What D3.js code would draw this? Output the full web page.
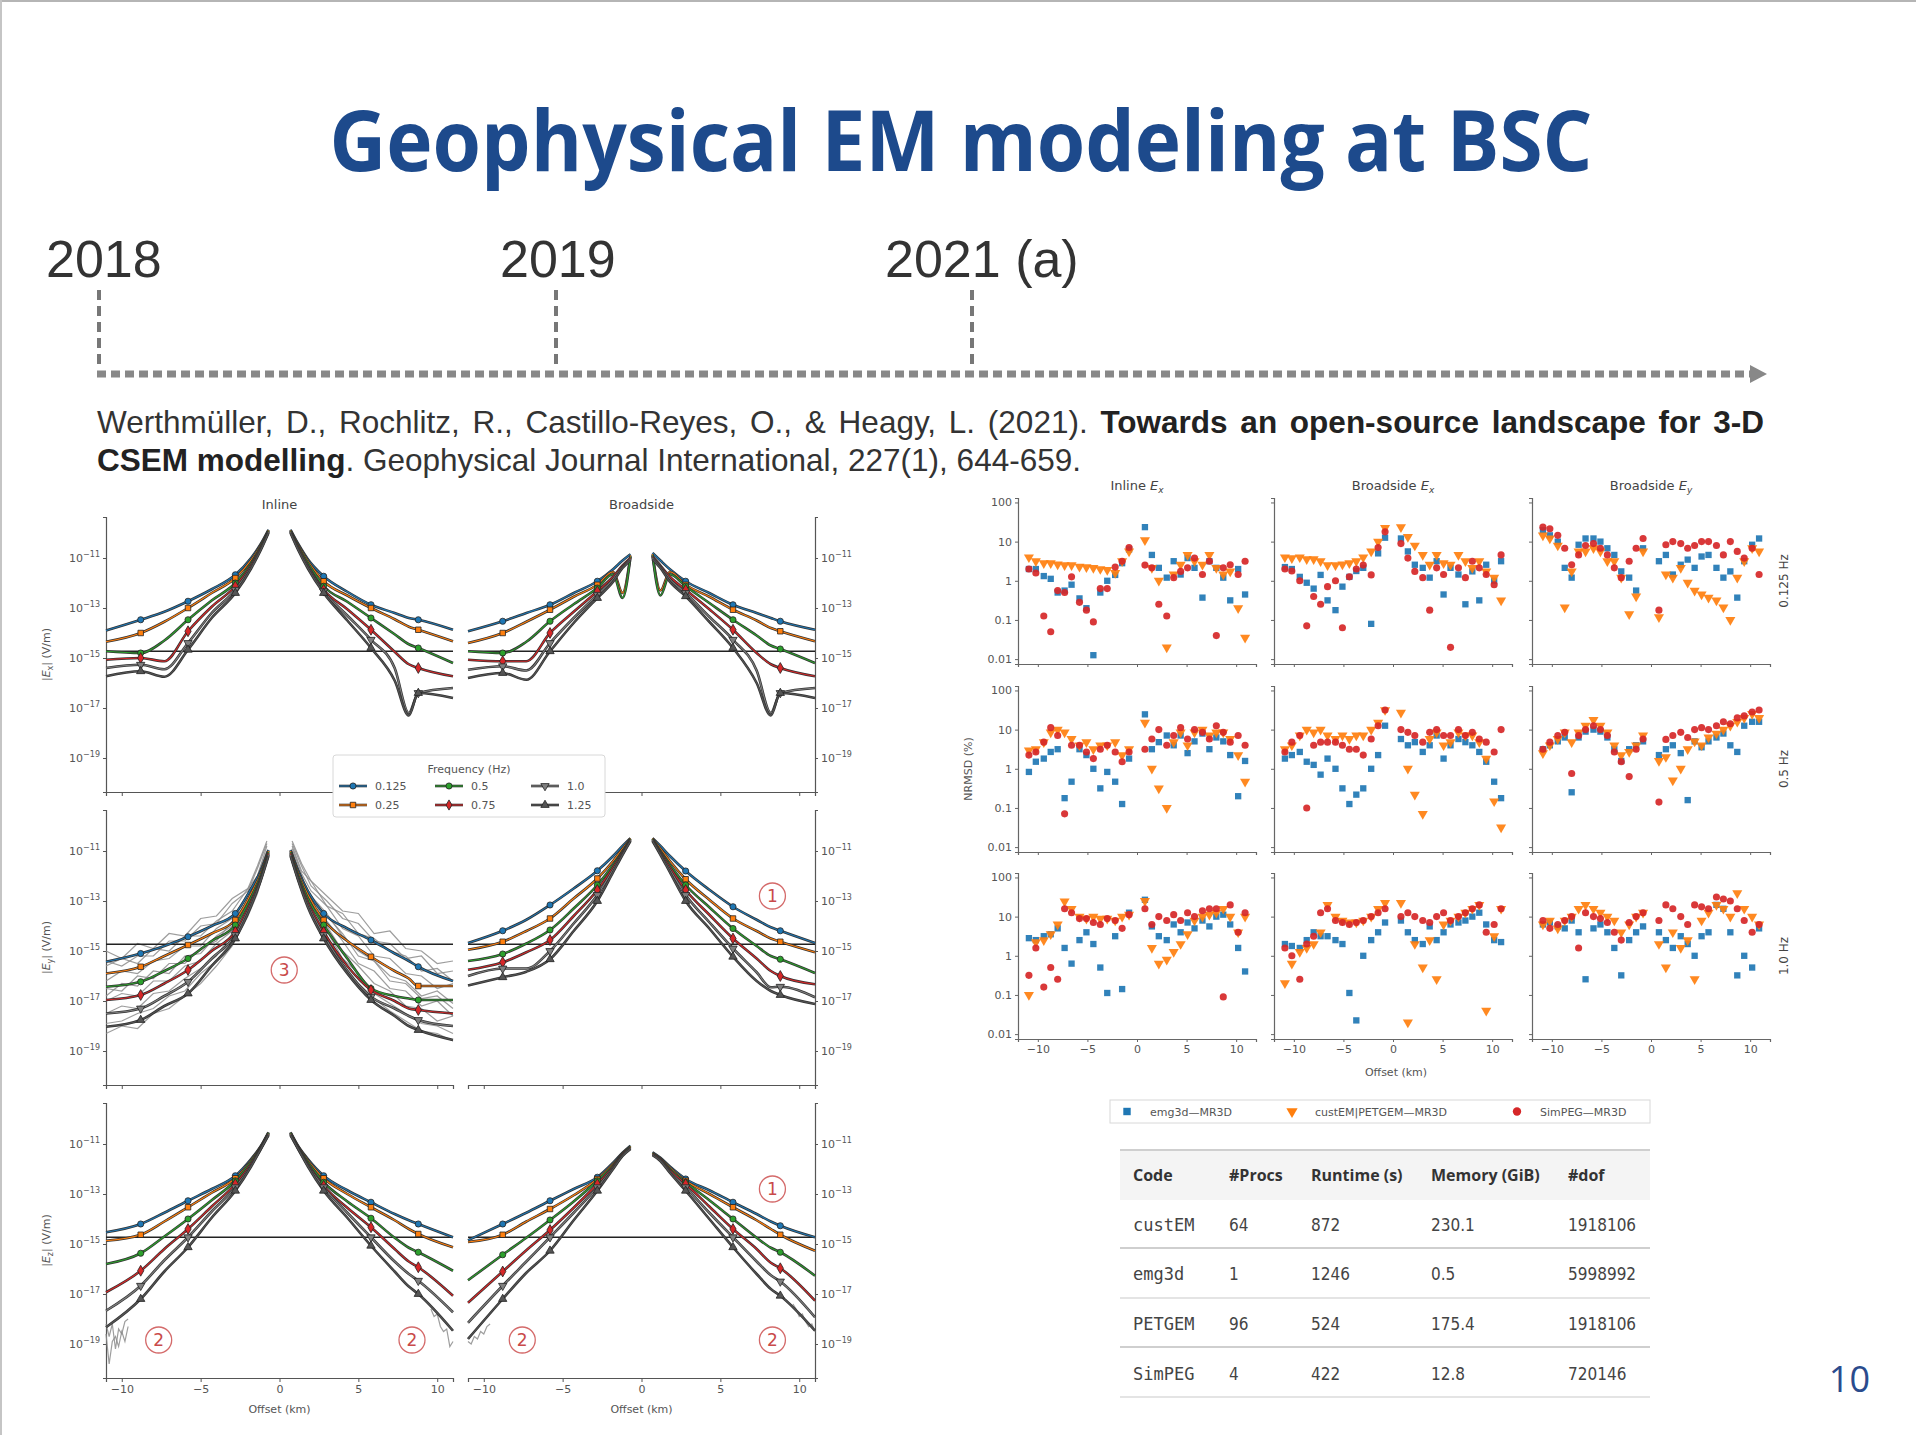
<!DOCTYPE html>
<html>
<head>
<meta charset="utf-8">
<script src="https://cdn.jsdelivr.net/npm/d3@7"></script>
<style>
  body { margin: 0; background: #fff; }
  svg { display: block; }
</style>
</head>
<body>
<script>
// ---------- data ----------
var years = ["2018", "2019", "2021 (a)"];
var freqLabels = ["0.125", "0.25", "0.5", "0.75", "1.0", "1.25"];

// offsets (km) of the amplitude curves, left branch then right branch
var ampOffsets = [-11, -8.8, -7.3, -5.8, -4.3, -2.8, -1.8, -1.2, -0.7,
                  0.7, 1.2, 1.8, 2.8, 4.3, 5.8, 7.3, 8.2, 8.8, 11];
var markerOffsets = [-8.8, -5.8, -2.8, 2.8, 5.8, 8.8];
var noiseLevel = -14.73; // log10 V/m

// log10 |E| per frequency (0.125 .. 1.25 Hz)
var inlineEx = [
  [-13.9,-13.47,-13.15,-12.73,-12.25,-11.67,-11.0,-10.45,-9.87, -9.87,-10.45,-11.05,-11.73,-12.35,-12.87,-13.2,-13.4,-13.47,-13.87],
  [-14.35,-14.0,-13.55,-13.0,-12.4,-11.8,-11.08,-10.5,-9.9, -9.9,-10.5,-11.12,-11.93,-12.5,-13.0,-13.45,-13.75,-13.87,-14.33],
  [-14.73,-14.8,-14.3,-13.47,-12.7,-12.0,-11.2,-10.55,-9.92, -9.92,-10.55,-11.2,-12.13,-12.75,-13.4,-14.05,-14.45,-14.6,-15.2],
  [-15.07,-15.0,-15.13,-13.93,-12.95,-12.13,-11.28,-10.6,-9.95, -9.95,-10.6,-11.3,-12.27,-13.05,-13.87,-14.75,-15.25,-15.4,-15.73],
  [-15.4,-15.27,-15.45,-14.4,-13.2,-12.27,-11.35,-10.65,-9.97, -9.97,-10.65,-11.35,-12.33,-13.3,-14.27,-15.4,-17.2,-16.4,-16.2],
  [-15.73,-15.53,-15.75,-14.67,-13.4,-12.4,-11.42,-10.7,-10.0, -10.0,-10.7,-11.42,-12.4,-13.5,-14.6,-15.9,-17.3,-16.4,-16.6]
];
var broadEx = [
  [-13.93,-13.53,-13.2,-12.87,-12.4,-11.93,-11.45,-11.1,-10.85, -10.8,-11.1,-11.45,-11.93,-12.4,-12.87,-13.2,-13.4,-13.53,-13.87],
  [-14.4,-14.0,-13.55,-13.07,-12.55,-12.07,-11.55,-12.4,-10.9, -10.85,-12.3,-11.55,-12.07,-12.55,-13.07,-13.5,-13.8,-13.93,-14.33],
  [-14.73,-14.8,-14.35,-13.53,-12.85,-12.2,-11.65,-12.6,-10.95, -10.9,-12.5,-11.65,-12.13,-12.8,-13.47,-14.1,-14.5,-14.64,-15.2],
  [-15.07,-15.13,-15.13,-14.0,-13.15,-12.33,-11.75,-11.3,-11.0, -10.95,-11.3,-11.75,-12.27,-13.05,-13.87,-14.8,-15.25,-15.4,-15.73],
  [-15.47,-15.33,-15.5,-14.4,-13.4,-12.47,-11.85,-11.35,-11.05, -11.0,-11.35,-11.85,-12.4,-13.35,-14.27,-15.5,-17.2,-16.4,-16.2],
  [-15.8,-15.6,-15.87,-14.73,-13.6,-12.6,-11.95,-11.4,-11.1, -11.05,-11.4,-11.95,-12.53,-13.55,-14.6,-16.0,-17.3,-16.4,-16.6]
];
var inlineEy = [
  [-15.43,-15.1,-14.8,-14.43,-14.0,-13.5,-12.5,-11.8,-10.96, -10.96,-11.8,-12.6,-13.5,-14.1,-14.56,-15.1,-15.4,-15.63,-16.2],
  [-15.9,-15.63,-15.2,-14.76,-14.3,-13.76,-12.7,-11.9,-11.0, -11.0,-11.9,-12.75,-13.76,-14.6,-15.23,-15.8,-16.1,-16.4,-16.4],
  [-16.43,-16.23,-15.8,-15.3,-14.6,-13.96,-12.85,-12.0,-11.05, -11.05,-12.0,-12.9,-13.96,-15.3,-16.5,-16.8,-16.9,-16.96,-16.96],
  [-16.96,-16.76,-16.3,-15.76,-15.0,-14.23,-13.0,-12.1,-11.1, -11.1,-12.1,-13.05,-14.23,-15.6,-16.56,-17.0,-17.3,-17.36,-17.5],
  [-17.5,-17.3,-16.8,-16.23,-15.3,-14.36,-13.1,-12.15,-11.15, -11.15,-12.15,-13.15,-14.36,-15.8,-16.83,-17.3,-17.6,-17.76,-18.0],
  [-18.03,-17.76,-17.2,-16.7,-15.6,-14.5,-13.2,-12.2,-11.2, -11.2,-12.2,-13.25,-14.5,-15.9,-16.96,-17.6,-18.0,-18.16,-18.56]
];
var broadEy = [
  [-14.68,-14.19,-13.75,-13.16,-12.5,-11.79,-11.2,-10.8,-10.49, -10.49,-10.8,-11.2,-11.8,-12.55,-13.23,-13.75,-14.05,-14.19,-14.68],
  [-14.95,-14.63,-14.2,-13.7,-12.9,-12.1,-11.4,-10.9,-10.5, -10.5,-10.9,-11.4,-12.13,-12.95,-13.7,-14.2,-14.5,-14.63,-15.05],
  [-15.4,-15.12,-14.7,-14.16,-13.3,-12.36,-11.55,-11.0,-10.52, -10.52,-11.0,-11.55,-12.36,-13.25,-14.1,-14.8,-15.2,-15.33,-15.88],
  [-15.75,-15.45,-15.05,-14.56,-13.6,-12.56,-11.65,-11.05,-10.55, -10.55,-11.05,-11.65,-12.56,-13.55,-14.5,-15.3,-15.8,-16.0,-16.33],
  [-16.0,-15.7,-15.7,-15.0,-13.9,-12.76,-11.75,-11.1,-10.57, -10.57,-11.1,-11.75,-12.76,-13.85,-14.9,-15.85,-16.45,-16.43,-16.85],
  [-16.38,-16.05,-15.83,-15.33,-14.2,-13.0,-11.85,-11.15,-10.6, -10.6,-11.15,-11.85,-13.0,-14.1,-15.23,-16.2,-16.6,-16.76,-17.12]
];
var inlineEz = [
  [-14.53,-14.2,-13.75,-13.27,-12.8,-12.27,-11.6,-11.1,-10.53, -10.53,-11.1,-11.6,-12.27,-12.85,-13.33,-13.8,-14.05,-14.2,-14.73],
  [-14.87,-14.63,-14.1,-13.53,-12.95,-12.37,-11.65,-11.12,-10.55, -10.55,-11.12,-11.65,-12.37,-13.0,-13.53,-14.05,-14.4,-14.6,-15.13],
  [-15.8,-15.37,-14.7,-14.0,-13.25,-12.47,-11.7,-11.15,-10.57, -10.57,-11.15,-11.72,-12.53,-13.3,-13.97,-14.75,-15.15,-15.33,-16.07],
  [-16.93,-16.07,-15.2,-14.4,-13.5,-12.6,-11.78,-11.18,-10.6, -10.6,-11.18,-11.8,-12.67,-13.55,-14.33,-15.2,-15.7,-15.93,-17.07],
  [-17.67,-16.67,-15.65,-14.73,-13.7,-12.73,-11.85,-11.2,-10.62, -10.62,-11.2,-11.85,-12.73,-13.75,-14.73,-15.7,-16.2,-16.47,-17.73],
  [-18.33,-17.2,-16.1,-15.13,-13.95,-12.87,-11.9,-11.22,-10.65, -10.65,-11.22,-11.9,-12.87,-13.95,-15.07,-16.1,-16.7,-17.0,-18.47]
];
var broadEz = [
  [-14.85,-14.2,-13.75,-13.27,-12.8,-12.33,-11.75,-11.35,-11.07, -11.33,-11.55,-11.9,-12.4,-12.85,-13.33,-13.8,-14.1,-14.27,-14.73],
  [-14.92,-14.63,-14.1,-13.6,-13.05,-12.4,-11.8,-11.38,-11.1, -11.36,-11.58,-11.95,-12.47,-13.0,-13.53,-14.05,-14.4,-14.63,-15.27],
  [-16.45,-15.43,-14.75,-14.04,-13.3,-12.47,-11.85,-11.4,-11.12, -11.38,-11.6,-12.0,-12.53,-13.25,-14.0,-14.75,-15.15,-15.33,-16.27],
  [-17.35,-16.1,-15.25,-14.44,-13.55,-12.6,-11.9,-11.42,-11.15, -11.4,-11.62,-12.05,-12.6,-13.5,-14.4,-15.2,-15.75,-15.97,-17.27],
  [-18.15,-16.67,-15.7,-14.73,-13.75,-12.73,-11.95,-11.45,-11.17, -11.42,-11.65,-12.1,-12.73,-13.75,-14.73,-15.7,-16.25,-16.5,-17.93],
  [-18.8,-17.2,-16.15,-15.27,-14.05,-12.87,-12.0,-11.48,-11.2, -11.45,-11.68,-12.15,-12.87,-14.0,-15.13,-16.2,-16.8,-17.07,-18.47]
];

// noisy realisations (grey) behind inline |Ey|
var noiseOffsets = [-11,-10,-9,-8,-7,-6,-5,-4,-3,-2,-1.4,-0.8, 0.8,1.4,2,3,4,5,6,7,8,9,10,11];
var eyNoise1  = [-15.0,-15.3,-14.7,-14.9,-14.3,-14.4,-13.7,-13.6,-12.9,-12.5,-11.6,-10.6, -10.6,-11.5,-12.2,-12.8,-13.4,-13.5,-14.3,-14.2,-14.9,-15.0,-15.5,-15.4];
var eyNoise2  = [-15.6,-15.3,-15.5,-14.9,-15.0,-14.4,-14.4,-13.8,-13.4,-12.5,-12.0,-10.8, -10.8,-11.8,-12.2,-13.2,-13.5,-14.3,-14.5,-15.0,-15.2,-15.8,-15.7,-16.2];
var eyNoise3  = [-16.2,-15.8,-15.9,-15.4,-15.3,-14.8,-14.8,-14.1,-13.7,-12.7,-12.0,-11.0, -10.9,-11.9,-12.6,-13.2,-14.1,-14.4,-15.2,-15.3,-15.9,-16.0,-16.5,-16.3];
var eyNoise4  = [-16.5,-16.6,-16.0,-16.1,-15.5,-15.5,-14.9,-14.6,-13.8,-13.0,-12.1,-11.1, -11.0,-12.1,-12.8,-13.5,-14.4,-15.0,-15.4,-16.0,-16.2,-16.8,-16.6,-17.1];
var eyNoise5  = [-17.0,-16.7,-16.8,-16.2,-16.2,-15.6,-15.4,-14.7,-14.2,-13.1,-12.3,-11.2, -11.2,-12.2,-12.9,-13.8,-14.6,-15.5,-15.8,-16.5,-16.6,-17.2,-17.0,-17.6];
var eyNoise6  = [-17.5,-17.2,-17.3,-16.7,-16.6,-16.1,-15.7,-15.2,-14.3,-13.3,-12.4,-11.2, -11.3,-12.3,-13.2,-14.0,-15.0,-15.6,-16.3,-16.6,-17.2,-17.3,-17.8,-17.6];
var eyNoise7  = [-17.9,-17.8,-17.5,-17.3,-16.8,-16.6,-15.9,-15.4,-14.6,-13.5,-12.6,-11.3, -11.4,-12.4,-13.4,-14.2,-15.3,-15.9,-16.7,-17.1,-17.5,-17.9,-18.0,-18.3];
var eyNoise8  = [-18.3,-18.0,-18.1,-17.5,-17.3,-16.8,-16.3,-15.6,-14.8,-13.6,-12.7,-11.4, -11.4,-12.6,-13.5,-14.5,-15.5,-16.3,-16.9,-17.4,-17.8,-18.2,-18.3,-18.6];
var eyNoise9  = [-15.4,-15.6,-15.2,-15.2,-14.6,-14.6,-14.0,-13.9,-13.1,-12.6,-11.7,-10.7, -10.7,-11.6,-12.4,-13.0,-13.7,-13.9,-14.6,-14.7,-15.3,-15.2,-15.9,-15.8];
var eyNoise10 = [-16.8,-16.3,-16.4,-15.8,-15.9,-15.2,-15.1,-14.4,-14.0,-12.9,-12.2,-11.1, -11.1,-12.0,-12.9,-13.6,-14.3,-15.2,-15.4,-16.2,-16.3,-16.9,-16.8,-17.3];

// noisy tails of |Ez|
var tailOffsetsL = [-11,-10.8,-10.6,-10.4,-10.2,-10.0,-9.8,-9.6];
var tailOffsetsR = [9.6,9.8,10.0,10.2,10.4,10.6,10.8,11];
var ezTailInline1 = [-18.6,-19.8,-18.9,-18.7,-19.1,-18.5,-18.9,-18.3];
var ezTailInline2 = [-18.2,-18.7,-18.2,-19.2,-18.4,-18.6,-18.1,-18.0];
var ezTailInlineR = [-17.6,-17.9,-17.8,-18.3,-18.5,-18.4,-19.1,-18.9];
var ezTailBroad1 = [-18.9,-19.0,-18.7,-18.8,-18.5,-18.6,-18.3,-18.2];
var ezTailBroadR = [-17.4,-17.6,-17.9,-17.8,-18.1,-18.3,-18.2,-18.5];

// NRMSD (log10 %) at these offsets, left branch then right branch
var nrmsdOffsets = [-10.9,-10.2,-9.4,-8.7,-8.0,-7.3,-6.6,-5.8,-5.1,-4.4,-3.7,-3.0,-2.2,-1.5,-0.8,
                    0.8,1.5,2.2,3.0,3.7,4.4,5.1,5.8,6.6,7.3,8.0,8.7,9.4,10.2,10.9];
var codes = ["emg3d\u2014MR3D", "custEM|PETGEM\u2014MR3D", "SimPEG\u2014MR3D"];
var compTitles = ["Inline", "Broadside", "Broadside"];
var compSubs = ["x", "x", "y"];
var freqRows = ["0.125 Hz", "0.5 Hz", "1.0 Hz"];

var ie125Emg  = [0.3,0.3,0.12,0.05,-0.3,-0.25,-0.1,-0.45,-0.7,-1.9,-0.3,0.0,0.15,0.45,0.8, 1.37,0.66,0.33,0.08,0.5,0.16,0.58,0.33,-0.43,0.5,0.33,0.08,-0.5,0.3,-0.35];
var ie125Cust = [0.6,0.5,0.45,0.45,0.42,0.4,0.4,0.36,0.35,0.33,0.3,0.28,0.2,0.5,0.75, 1.04,0.33,0.0,-1.7,0.16,0.41,0.66,0.5,0.41,0.66,0.33,0.16,0.24,-0.7,-1.45];
var ie125Sim  = [0.3,0.2,-0.9,-1.3,-0.25,-0.3,0.1,-0.55,-0.75,-1.05,-0.2,-0.2,0.35,0.5,0.85, 0.4,0.33,-0.6,-0.9,0.08,0.24,0.33,0.58,0.16,0.5,-1.4,0.33,0.41,0.16,0.5];
var bx125Emg  = [0.35,0.3,0.1,-0.05,-0.2,0.15,-0.5,-0.75,-0.15,0.1,0.25,0.33,-1.1,0.7,1.1, 1.08,0.75,0.41,0.33,0.08,0.5,-0.35,0.33,0.16,-0.6,0.24,-0.5,0.41,0.0,0.5];
var bx125Cust = [0.6,0.58,0.6,0.55,0.55,0.5,0.4,0.4,0.42,0.45,0.5,0.6,0.75,1.0,1.35, 1.37,1.12,0.9,0.66,0.41,0.66,0.45,0.41,0.66,0.5,0.33,0.5,0.24,0.08,-0.5];
var bx125Sim  = [0.3,0.25,0.0,-1.15,-0.4,-0.6,-0.15,0.0,-1.2,0.1,0.3,0.4,0.15,0.85,1.25, 0.95,0.58,0.24,0.08,-0.75,0.33,0.16,-1.7,0.33,0.08,0.5,0.33,0.16,-0.1,0.66];
var by125Emg  = [1.29,1.16,1.0,0.33,0.08,0.92,1.08,1.08,1.0,0.83,0.66,0.24,0.08,-0.25,0.83, 0.5,0.66,0.16,0.41,0.54,0.33,0.62,0.66,0.33,0.08,0.24,-0.43,0.5,0.92,1.08];
var by125Cust = [1.16,1.08,0.9,-0.68,0.24,0.75,0.75,0.83,0.75,0.5,0.5,0.08,-0.85,-0.4,0.75, -0.93,0.16,0.08,0.33,-0.05,-0.25,-0.35,-0.43,-0.5,-0.68,-1.0,0.08,0.5,0.83,0.75];
var by125Sim  = [1.37,1.33,1.16,0.83,0.41,0.66,0.9,0.95,0.83,0.66,0.33,0.08,0.5,0.83,1.08, -0.75,0.92,1.0,0.95,0.83,0.9,1.0,1.0,0.9,0.66,1.0,0.75,0.58,0.83,0.16];
var ie05Emg   = [-0.08,0.18,0.26,0.43,0.5,-0.75,-0.33,0.5,0.35,0.0,-0.5,-0.08,-0.33,-0.9,0.26, 1.39,0.5,0.68,0.85,0.6,0.85,0.4,0.7,0.9,0.5,0.8,0.7,0.35,-0.7,0.2];
var ie05Cust  = [0.47,0.5,0.68,0.93,1.0,0.93,0.76,0.6,0.68,0.5,0.6,0.6,0.68,0.35,0.5, 1.18,0.0,-0.5,-1.0,0.68,0.93,0.6,0.93,1.0,0.85,0.93,0.93,0.76,0.35,-0.33];
var ie05Sim   = [0.35,0.43,0.68,1.05,0.85,-1.15,0.6,0.6,0.43,0.26,0.5,0.6,0.43,0.18,0.43, 0.5,0.76,1.0,0.6,0.85,1.05,0.76,1.0,0.93,0.76,1.1,0.93,0.68,0.85,0.6];
var bx05Emg   = [0.26,0.35,0.43,0.18,0.1,-0.15,0.26,0.0,-0.5,-0.9,-0.66,-0.5,0.0,0.35,1.1, 0.76,0.6,0.68,0.43,0.6,0.85,0.26,0.6,0.76,0.68,0.6,0.43,0.18,-0.33,-0.75];
var bx05Cust  = [0.5,0.6,0.85,1.0,0.93,1.0,0.85,0.76,0.85,0.76,0.85,0.85,1.0,1.18,1.5, 1.43,0.0,-0.66,-1.15,0.76,0.93,0.6,0.68,0.93,0.85,0.85,0.68,0.26,-0.83,-1.5];
var bx05Sim   = [0.43,0.68,0.85,-1.0,0.6,0.68,0.68,0.68,0.6,0.5,0.5,0.35,0.76,1.1,1.5, 1.0,0.93,0.85,0.68,0.93,1.0,0.85,0.85,1.0,0.85,0.93,0.76,0.68,0.43,1.0];
var by05Emg   = [0.5,0.6,0.7,0.8,-0.6,0.8,0.95,1.0,0.95,0.8,0.5,0.2,0.5,0.6,0.7, 0.35,0.5,0.6,0.4,-0.8,0.7,0.55,0.7,0.8,0.9,0.6,0.43,1.1,1.2,1.2];
var by05Cust  = [0.4,0.6,0.76,0.93,0.68,0.93,1.1,1.25,1.1,0.93,0.6,0.35,0.43,0.6,0.85, 0.2,0.3,-0.3,0.0,0.5,0.7,0.6,0.8,0.9,1.0,1.1,1.2,1.3,1.4,1.3];
var by05Sim   = [0.5,0.68,0.85,0.93,-0.12,0.85,1.0,1.1,1.0,0.85,0.43,0.18,-0.2,0.5,0.76, -0.85,0.75,0.85,0.93,0.8,1.0,1.05,1.0,1.1,1.2,1.15,1.3,1.35,1.45,1.5];
var ie10Emg   = [0.45,0.4,0.5,0.55,0.7,0.2,-0.2,0.4,0.6,0.3,-0.3,-0.95,0.5,-0.85,1.1, 1.43,0.75,0.5,0.4,0.8,0.6,0.85,0.7,0.9,0.75,1.0,1.05,0.8,0.2,-0.4];
var ie10Cust  = [-1.0,0.35,0.4,0.55,0.8,1.39,1.2,1.0,0.95,1.0,0.95,0.95,0.9,1.0,1.05, 1.4,0.2,-0.2,-0.1,0.1,0.3,0.55,0.9,1.0,1.05,1.1,1.2,1.0,0.6,1.0];
var ie10Sim   = [-0.5,0.2,-0.8,-0.3,-0.6,1.2,1.1,0.95,0.95,0.85,0.8,0.95,0.9,0.7,1.05, 1.2,0.8,1.0,0.9,1.05,0.9,1.1,1.0,1.15,1.2,1.2,-1.05,1.3,0.6,1.1];
var bx10Emg   = [0.3,0.25,0.2,0.4,0.6,0.5,0.5,0.4,0.3,-0.95,-1.65,0.0,0.4,0.6,0.85, 0.9,0.6,0.4,0.3,0.75,0.4,0.6,0.8,0.85,0.9,1.0,1.1,0.8,0.4,0.35];
var bx10Cust  = [-0.7,-0.2,0.1,0.2,0.3,0.6,1.3,1.0,0.9,0.85,0.85,0.9,1.0,1.2,1.35, 1.35,-1.7,0.3,-0.3,0.4,-0.6,0.8,0.9,1.0,1.1,1.2,1.3,-1.4,0.5,1.2];
var bx10Sim   = [0.2,0.0,-0.6,0.3,0.5,1.1,1.2,0.9,0.85,0.8,0.85,0.9,1.0,1.1,1.2, 1.0,1.1,1.0,0.9,0.85,1.0,1.1,0.9,1.0,1.1,1.2,1.3,0.6,0.8,1.2];
var by10Emg   = [0.8,0.85,0.75,0.7,0.9,0.6,-0.6,0.7,0.8,0.6,0.2,-0.5,0.4,0.6,0.75, 0.6,0.4,0.2,0.5,0.3,0.0,0.5,0.6,1.3,1.2,0.6,-0.5,0.0,-0.3,0.7];
var by10Cust  = [0.8,0.9,0.7,0.9,1.0,1.2,1.3,1.2,1.1,1.0,0.9,0.6,0.8,1.0,1.1, 0.3,-0.3,0.6,0.2,0.4,-0.6,0.9,1.1,1.3,1.2,1.0,1.6,1.2,1.0,0.8];
var by10Sim   = [0.9,0.7,0.8,0.9,1.0,0.2,1.1,1.0,0.95,0.85,0.6,0.4,0.85,1.0,1.1, 0.9,1.3,1.2,1.0,0.8,1.3,1.25,1.2,1.5,1.45,1.4,1.2,0.9,0.6,0.8];

// runtime table
var tableHeader = ["Code", "#Procs", "Runtime (s)", "Memory (GiB)", "#dof"];
var tableCodes = ["custEM", "emg3d", "PETGEM", "SimPEG"];
var tableProcs = [64, 1, 96, 4];
var tableRuntime = [872, 1246, 524, 422];
var tableMemory = ["230.1", "0.5", "175.4", "12.8"];
var tableDof = [1918106, 5998992, 1918106, 720146];

// ---------- page ----------
var W = 1916, H = 1435;
var svg = d3.select("body").append("svg").attr("width", W).attr("height", H);
svg.append("rect").attr("width", W).attr("height", H).attr("fill", "#fff");
svg.append("line").attr("x1", 0).attr("x2", W).attr("y1", 1).attr("y2", 1).attr("stroke", "#b5b5b5").attr("stroke-width", 2);
svg.append("line").attr("x1", 1).attr("x2", 1).attr("y1", 0).attr("y2", H).attr("stroke", "#c5c5c5").attr("stroke-width", 2);

svg.append("text")
  .attr("x", 961).attr("y", 171)
  .attr("text-anchor", "middle")
  .attr("font-family", "Open Sans, Noto Sans, sans-serif")
  .attr("font-weight", 700).attr("font-size", 84)
  .attr("textLength", 1263).attr("lengthAdjust", "spacingAndGlyphs")
  .attr("fill", "#1d4a8c")
  .text("Geophysical EM modeling at BSC");

// timeline
var yearX = [46, 500, 885];
var stemX = [99, 556, 972];
svg.selectAll(".year").data(years).enter().append("text")
  .attr("x", function(d, i) { return yearX[i]; }).attr("y", 277)
  .attr("font-family", "Liberation Sans, Arial, sans-serif").attr("font-size", 52)
  .attr("fill", "#333").text(function(d) { return d; });
svg.selectAll(".stem").data(stemX).enter().append("line")
  .attr("x1", function(d) { return d; }).attr("x2", function(d) { return d; })
  .attr("y1", 290).attr("y2", 370)
  .attr("stroke", "#777").attr("stroke-width", 4).attr("stroke-dasharray", "10,6");
svg.append("line").attr("x1", 97).attr("x2", 1752).attr("y1", 374).attr("y2", 374)
  .attr("stroke", "#888").attr("stroke-width", 7).attr("stroke-dasharray", "9,5");
svg.append("path").attr("d", "M1750,365 L1767,374 L1750,383 Z").attr("fill", "#888");

// citation (first line justified with word spacing)
var citeFont = "Liberation Sans, Arial, sans-serif";
var citeSize = 31.5;
var cite1 = svg.append("text").attr("x", 97).attr("y", 433)
  .attr("font-family", citeFont).attr("font-size", citeSize).attr("fill", "#333");
var c1a = "Werthmüller, D., Rochlitz, R., Castillo-Reyes, O., & Heagy, L. (2021). ";
var c1b = "Towards an open-source landscape for 3-D";
cite1.append("tspan").text(c1a);
cite1.append("tspan").attr("font-weight", "bold").attr("fill", "#222").text(c1b);
var natural = cite1.node().getComputedTextLength();
var nSpaces = (c1a + c1b).split(" ").length - 1;
cite1.attr("word-spacing", Math.max(0, (1667 - natural) / nSpaces));
var cite2 = svg.append("text").attr("x", 97).attr("y", 471)
  .attr("font-family", citeFont).attr("font-size", citeSize).attr("fill", "#333");
cite2.append("tspan").attr("font-weight", "bold").attr("fill", "#222").text("CSEM modelling");
cite2.append("tspan").text(". Geophysical Journal International, 227(1), 644-659.");

// ---------- left figure: amplitudes ----------
var figFont = "DejaVu Sans, sans-serif";
var freqColors = ["#1f77b4", "#ff7f0e", "#2ca02c", "#d62728", "#7f7f7f", "#555555"];
var freqSymbols = [d3.symbolCircle, d3.symbolSquare, d3.symbolCircle, d3.symbolDiamond, d3.symbolTriangle, d3.symbolTriangle];
var symbolRotate = [0, 0, 0, 0, 180, 0];
var rowTops = [517, 810, 1103];
var colLeft = [106, 468];
var panelW = 347, panelH = 275;
var rowPanels = [[inlineEx, broadEx], [inlineEy, broadEy], [inlineEz, broadEz]];
var rowSub = ["x", "y", "z"];

function supLabel(sel, expo) {
  sel.text("");
  sel.append("tspan").text("10");
  sel.append("tspan").attr("dy", -5).attr("font-size", 8).text("\u2212" + expo);
}

function ampPanel(r, c) {
  var x0 = colLeft[c], y0 = rowTops[r];
  var x = d3.scaleLinear().domain([-11, 11]).range([x0, x0 + panelW]);
  var y = d3.scaleLinear().domain([-20.36, -9.36]).range([y0 + panelH, y0]);
  var g = svg.append("g");

  var yAxis = (c === 0 ? d3.axisLeft(y) : d3.axisRight(y))
    .tickValues([-11, -13, -15, -17, -19]).tickSize(3);
  var ya = g.append("g").attr("transform", "translate(" + (c === 0 ? x0 : x0 + panelW) + ",0)").call(yAxis);
  ya.selectAll(".tick text").each(function(d) { supLabel(d3.select(this), -d); });
  var xa = g.append("g").attr("transform", "translate(0," + (y0 + panelH) + ")")
    .call(d3.axisBottom(x).tickValues([-10, -5, 0, 5, 10]).tickSize(4)
      .tickFormat(r === 2 ? function(d) { return d < 0 ? "\u2212" + (-d) : d; } : ""));
  [ya, xa].forEach(function(a) {
    a.select(".domain").attr("stroke", "#555").attr("stroke-width", 1.2);
    a.selectAll(".tick line").attr("stroke", "#555");
    a.selectAll("text").attr("font-family", figFont).attr("font-size", 11).attr("fill", "#555");
  });

  var line = d3.line().x(function(d) { return x(d[0]); }).y(function(d) { return y(d[1]); });
  var smooth = d3.line().curve(d3.curveMonotoneX).x(function(d) { return x(d[0]); }).y(function(d) { return y(d[1]); });
  function branches(offs, vals) {
    var L = [], R = [];
    offs.forEach(function(o, i) { (o < 0 ? L : R).push([o, vals[i]]); });
    return [L, R];
  }

  // grey noisy realisations
  var grey = [];
  if (r === 1 && c === 0) {
    [eyNoise1, eyNoise2, eyNoise3, eyNoise4, eyNoise5, eyNoise6, eyNoise7, eyNoise8, eyNoise9, eyNoise10].forEach(function(v) {
      grey = grey.concat(branches(noiseOffsets, v));
    });
  }
  if (r === 2) {
    if (c === 0) {
      grey.push(tailOffsetsL.map(function(o, i) { return [o, ezTailInline1[i]]; }));
      grey.push(tailOffsetsL.map(function(o, i) { return [o, ezTailInline2[i]]; }));
      grey.push(tailOffsetsR.map(function(o, i) { return [o, ezTailInlineR[i]]; }));
    } else {
      grey.push(tailOffsetsL.map(function(o, i) { return [o, ezTailBroad1[i]]; }));
      grey.push(tailOffsetsR.map(function(o, i) { return [o, ezTailBroadR[i]]; }));
    }
  }
  g.selectAll(".grey").data(grey).enter().append("path")
    .attr("d", line).attr("fill", "none").attr("stroke", "#8c8c8c").attr("stroke-width", 1.2).attr("opacity", 0.85);

  // noise level
  g.append("line").attr("x1", x0).attr("x2", x0 + panelW)
    .attr("y1", y(noiseLevel)).attr("y2", y(noiseLevel)).attr("stroke", "#222").attr("stroke-width", 1.5);

  var curves = rowPanels[r][c];
  curves.forEach(function(vals, f) {
    branches(ampOffsets, vals).forEach(function(b) {
      g.append("path").attr("d", smooth(b)).attr("fill", "none").attr("stroke", "#333").attr("stroke-width", 2.6);
      g.append("path").attr("d", smooth(b)).attr("fill", "none").attr("stroke", freqColors[f]).attr("stroke-width", 1.1);
    });
  });
  curves.forEach(function(vals, f) {
    var pts = markerOffsets.map(function(o) { return [o, vals[ampOffsets.indexOf(o)]]; });
    g.selectAll(".m" + f).data(pts).enter().append("path")
      .attr("d", d3.symbol().type(freqSymbols[f]).size(f === 3 ? 34 : 30))
      .attr("transform", function(d) { return "translate(" + x(d[0]) + "," + y(d[1]) + ") rotate(" + symbolRotate[f] + ")"; })
      .attr("fill", freqColors[f]).attr("stroke", "#222").attr("stroke-width", 0.8);
  });

  if (r === 0) {
    g.append("text").attr("x", x(0)).attr("y", 509).attr("text-anchor", "middle")
      .attr("font-family", figFont).attr("font-size", 13).attr("fill", "#444")
      .text(c === 0 ? "Inline" : "Broadside");
  }
  if (r === 2) {
    g.append("text").attr("x", x(0)).attr("y", 1413).attr("text-anchor", "middle")
      .attr("font-family", figFont).attr("font-size", 11).attr("fill", "#555").text("Offset (km)");
  }
  if (c === 0) {
    var lab = g.append("text").attr("transform", "translate(50," + (y0 + panelH / 2) + ") rotate(-90)")
      .attr("text-anchor", "middle").attr("font-family", figFont).attr("font-size", 11).attr("fill", "#555");
    lab.append("tspan").text("|");
    lab.append("tspan").attr("font-style", "italic").text("E");
    lab.append("tspan").attr("dy", 3).attr("font-size", 8).text(rowSub[r]);
    lab.append("tspan").attr("dy", -3).text("| (V/m)");
  }
  return { x: x, y: y };
}

var scales = [];
for (var r = 0; r < 3; r++) {
  scales.push([ampPanel(r, 0), ampPanel(r, 1)]);
}

// circled annotations
var notes = [
  { r: 1, c: 0, k: "3", o: 0.3, v: -15.76 },
  { r: 1, c: 1, k: "1", o: 8.3, v: -12.8 },
  { r: 2, c: 1, k: "1", o: 8.3, v: -12.8 },
  { r: 2, c: 0, k: "2", o: -7.66, v: -18.84 },
  { r: 2, c: 0, k: "2", o: 8.4, v: -18.84 },
  { r: 2, c: 1, k: "2", o: -7.56, v: -18.84 },
  { r: 2, c: 1, k: "2", o: 8.3, v: -18.84 }
];
notes.forEach(function(n) {
  var s = scales[n.r][n.c];
  var cx = s.x(n.o), cy = s.y(n.v);
  svg.append("circle").attr("cx", cx).attr("cy", cy).attr("r", 13)
    .attr("fill", "none").attr("stroke", "#d46a6a").attr("stroke-width", 1.3);
  svg.append("text").attr("x", cx).attr("y", cy + 6).attr("text-anchor", "middle")
    .attr("font-family", figFont).attr("font-size", 17).attr("fill", "#c94a4a").text(n.k);
});

// frequency legend
var leg = svg.append("g").attr("transform", "translate(333,755)");
leg.append("rect").attr("width", 272).attr("height", 62).attr("rx", 3)
  .attr("fill", "#fff").attr("stroke", "#d8d8d8");
leg.append("text").attr("x", 136).attr("y", 18).attr("text-anchor", "middle")
  .attr("font-family", figFont).attr("font-size", 11).attr("fill", "#555").text("Frequency (Hz)");
freqLabels.forEach(function(lbl, f) {
  var lx = 6 + Math.floor(f / 2) * 96, ly = 31 + (f % 2) * 19;
  leg.append("line").attr("x1", lx).attr("x2", lx + 28).attr("y1", ly).attr("y2", ly).attr("stroke", "#333").attr("stroke-width", 2.6);
  leg.append("line").attr("x1", lx).attr("x2", lx + 28).attr("y1", ly).attr("y2", ly).attr("stroke", freqColors[f]).attr("stroke-width", 1.1);
  leg.append("path").attr("d", d3.symbol().type(freqSymbols[f]).size(30))
    .attr("transform", "translate(" + (lx + 14) + "," + ly + ") rotate(" + symbolRotate[f] + ")")
    .attr("fill", freqColors[f]).attr("stroke", "#222").attr("stroke-width", 0.8);
  leg.append("text").attr("x", lx + 36).attr("y", ly + 4)
    .attr("font-family", figFont).attr("font-size", 11).attr("fill", "#555").text(lbl);
});

// ---------- right figure: NRMSD ----------
var codeColors = ["#1f77b4", "#ff7f0e", "#d62728"];
var codeSymbols = [d3.symbolSquare, d3.symbolTriangle, d3.symbolCircle];
var codeRotate = [0, 180, 0];
var nColLeft = [1018, 1274, 1532];
var nRowTop = [498, 686, 873];
var nW = 238, nH = 166;
var nrmsdGrid = [
  [[ie125Emg, ie125Cust, ie125Sim], [bx125Emg, bx125Cust, bx125Sim], [by125Emg, by125Cust, by125Sim]],
  [[ie05Emg, ie05Cust, ie05Sim], [bx05Emg, bx05Cust, bx05Sim], [by05Emg, by05Cust, by05Sim]],
  [[ie10Emg, ie10Cust, ie10Sim], [bx10Emg, bx10Cust, bx10Sim], [by10Emg, by10Cust, by10Sim]]
];

nrmsdGrid.forEach(function(row, ri) {
  row.forEach(function(series, ci) {
    var x0 = nColLeft[ci], y0 = nRowTop[ri];
    var x = d3.scaleLinear().domain([-12, 12]).range([x0, x0 + nW]);
    var y = d3.scaleLog().domain([0.0075, 130]).range([y0 + nH, y0]);
    var g = svg.append("g");
    var ya = g.append("g").attr("transform", "translate(" + x0 + ",0)")
      .call(d3.axisLeft(y).tickValues([0.01, 0.1, 1, 10, 100]).tickSize(3)
        .tickFormat(ci === 0 ? function(d) { return String(d); } : ""));
    var xa = g.append("g").attr("transform", "translate(0," + (y0 + nH) + ")")
      .call(d3.axisBottom(x).tickValues([-10, -5, 0, 5, 10]).tickSize(3)
        .tickFormat(ri === 2 ? function(d) { return d < 0 ? "\u2212" + (-d) : d; } : ""));
    [ya, xa].forEach(function(a) {
      a.select(".domain").attr("stroke", "#666").attr("stroke-width", 1.2);
      a.selectAll(".tick line").attr("stroke", "#666");
      a.selectAll("text").attr("font-family", figFont).attr("font-size", 11).attr("fill", "#555");
    });
    series.forEach(function(vals, si) {
      g.selectAll(".p" + si).data(vals).enter().append("path")
        .attr("d", d3.symbol().type(codeSymbols[si]).size(si === 1 ? 44 : 40))
        .attr("transform", function(v, i) {
          return "translate(" + x(nrmsdOffsets[i]) + "," + y(Math.pow(10, v)) + ") rotate(" + codeRotate[si] + ")";
        })
        .attr("fill", codeColors[si]).attr("opacity", 0.92);
    });
    if (ri === 0) {
      var t = g.append("text").attr("x", x(0)).attr("y", 490).attr("text-anchor", "middle")
        .attr("font-family", figFont).attr("font-size", 13).attr("fill", "#444");
      t.append("tspan").text(compTitles[ci] + " ");
      t.append("tspan").attr("font-style", "italic").text("E");
      t.append("tspan").attr("dy", 3).attr("font-size", 9).attr("font-style", "italic").text(compSubs[ci]);
    }
    if (ci === 2) {
      g.append("text").attr("transform", "translate(1788," + (y0 + nH / 2) + ") rotate(-90)")
        .attr("text-anchor", "middle").attr("font-family", figFont).attr("font-size", 12).attr("fill", "#444")
        .text(freqRows[ri]);
    }
  });
});
svg.append("text").attr("transform", "translate(972," + (nRowTop[1] + nH / 2) + ") rotate(-90)")
  .attr("text-anchor", "middle").attr("font-family", figFont).attr("font-size", 11).attr("fill", "#555").text("NRMSD (%)");
svg.append("text").attr("x", 1396).attr("y", 1076).attr("text-anchor", "middle")
  .attr("font-family", figFont).attr("font-size", 11).attr("fill", "#555").text("Offset (km)");

// code legend
var cl = svg.append("g").attr("transform", "translate(1110,1100)");
cl.append("rect").attr("width", 540).attr("height", 23).attr("fill", "#fff").attr("stroke", "#d8d8d8");
var clX = [17, 182, 407];
codes.forEach(function(name, i) {
  cl.append("path").attr("d", d3.symbol().type(codeSymbols[i]).size(55))
    .attr("transform", "translate(" + clX[i] + ",11.5) rotate(" + codeRotate[i] + ")").attr("fill", codeColors[i]);
  cl.append("text").attr("x", clX[i] + 23).attr("y", 16)
    .attr("font-family", figFont).attr("font-size", 11).attr("fill", "#555").text(name);
});

// ---------- table ----------
var colX = [1133, 1229, 1311, 1431, 1568];
var tb = svg.append("g");
tb.append("rect").attr("x", 1120).attr("y", 1150).attr("width", 530).attr("height", 50).attr("fill", "#f4f4f4");
tb.append("line").attr("x1", 1120).attr("x2", 1650).attr("y1", 1150).attr("y2", 1150).attr("stroke", "#cfcfcf").attr("stroke-width", 2);
tableHeader.forEach(function(h, i) {
  tb.append("text").attr("x", colX[i]).attr("y", 1181)
    .attr("font-family", "Open Sans, Noto Sans, sans-serif").attr("font-weight", 700)
    .attr("font-size", 16).attr("fill", "#333").text(h);
});
var rowBase = [1231, 1280, 1330, 1380];
var sepY = [1248, 1298, 1347, 1397];
tableCodes.forEach(function(code, i) {
  var cells = [code, tableProcs[i], tableRuntime[i], tableMemory[i], tableDof[i]];
  cells.forEach(function(v, j) {
    tb.append("text").attr("x", colX[j]).attr("y", rowBase[i])
      .attr("font-family", j === 0 ? "DejaVu Sans Mono, monospace" : "Liberation Sans Narrow, DejaVu Sans Condensed, sans-serif")
      .attr("font-size", 17).attr("fill", "#444").text(v);
  });
  tb.append("line").attr("x1", 1120).attr("x2", 1650).attr("y1", sepY[i]).attr("y2", sepY[i])
    .attr("stroke", i % 2 === 0 ? "#cfcfcf" : "#e4e4e4").attr("stroke-width", 2);
});

// page number
svg.append("text").attr("x", 1870).attr("y", 1392).attr("text-anchor", "end")
  .attr("font-family", "Open Sans, Noto Sans, sans-serif").attr("font-size", 36).attr("fill", "#2a4b8d").text("10");
</script>
</body>
</html>
